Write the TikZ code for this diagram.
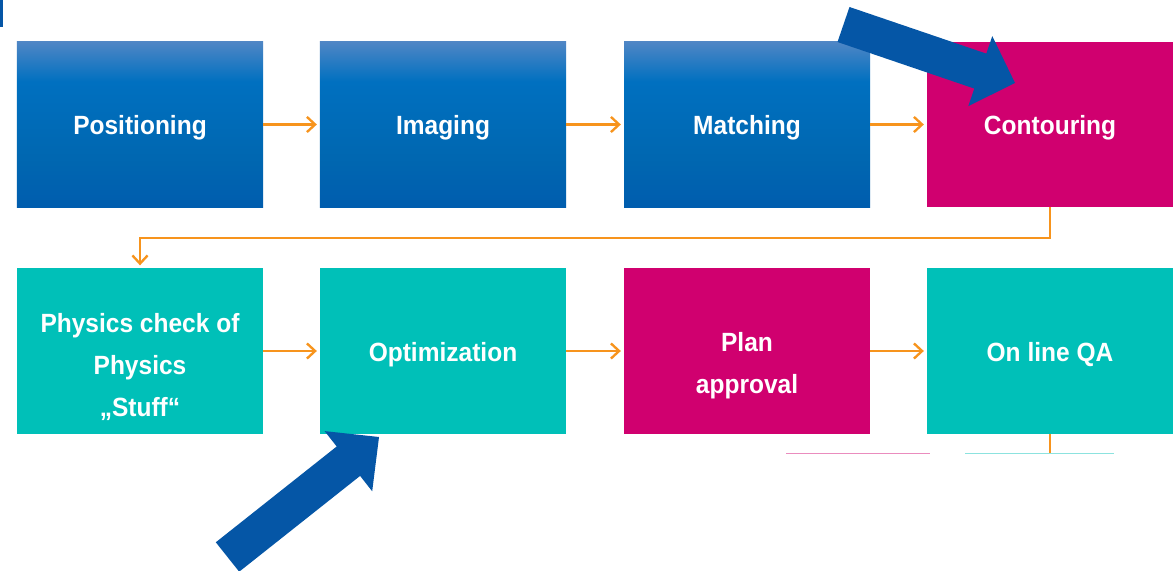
\documentclass[tikz,border=0pt]{standalone}
\usepackage{fontspec}
\setmainfont{Liberation Sans}
\newfontfamily\boxfont[FakeStretch=0.93]{Liberation Sans}
\usetikzlibrary{arrows.meta}
\definecolor{boxblue}{HTML}{0070C0}
\definecolor{boxbluetop}{HTML}{4F86C5}
\definecolor{boxbluebot}{HTML}{005DAE}
\definecolor{boxpink}{HTML}{D0006F}
\definecolor{boxteal}{HTML}{00C0B8}
\definecolor{flow}{HTML}{F7941D}
\definecolor{pointer}{HTML}{0556A6}
\pgfdeclareverticalshading{boxshade}{100bp}{color(0bp)=(boxbluebot); color(25bp)=(boxbluebot);
  color(40bp)=(boxblue!92!black); color(63bp)=(boxblue); color(75bp)=(boxbluetop); color(100bp)=(boxbluetop)}
\tikzset{
  stepbox/.style={rectangle, minimum width=7.38cm, minimum height=4.95cm, inner sep=0pt},
  bluebox/.style={stepbox, shading=boxshade},
  pinkbox/.style={stepbox, fill=boxpink},
  tealbox/.style={stepbox, fill=boxteal},
  boxtext/.style={anchor=base, inner sep=0pt, align=center, text=white,
    font=\boxfont\fontsize{22.5}{35.5}\selectfont\bfseries},
  flowline/.style={draw=flow, line width=2pt, shorten >=2.5pt,
    -{Straight Barb[length=7pt,width=13pt]}},
  bigarrow/.style={fill=pointer}
}
\begin{document}
\begin{tikzpicture}[x=0.03cm, y=-0.03cm]
  \clip (0,0) rectangle (1173,571);
  \fill[white] (0,0) rectangle (1173,571);
  \fill[pointer] (0,0) rectangle (3,27);
  % boxes
  \node[bluebox] (pos) at (140,124.5) {};
  \node[bluebox] (img) at (443,124.5) {};
  \node[bluebox] (match) at (747,124.5) {};
  \node[pinkbox] (cont) at (1050,124.5) {};
  \node[tealbox] (phys) at (140,351) {};
  \node[tealbox] (opt) at (443,351) {};
  \node[pinkbox] (plan) at (747,351) {};
  \node[tealbox] (qa) at (1050,351) {};
  % texts
  \node[boxtext] (postext) at (140,134.5) {Positioning};
  \node[boxtext] (imgtext) at (443,134.5) {Imaging};
  \node[boxtext] (matchtext) at (747,134.5) {Matching};
  \node[boxtext] (conttext) at (1050,135) {Contouring};
  \node[boxtext] (phystext) at (140,416) {Physics check of\\Physics\\„Stuff“};
  \node[boxtext] (opttext) at (443,361.5) {Optimization};
  \node[boxtext] (plantext) at (747,393) {Plan\\approval};
  \node[boxtext] (qatext) at (1050,361.5) {On line QA};
  % flow
  \draw[flowline] (pos) -- (img);
  \draw[flowline] (img) -- (match);
  \draw[flowline] (match) -- (cont);
  \draw[flowline] (cont.south) -- ++(0,31) -| (phys.north);
  \draw[flowline] (phys) -- (opt);
  \draw[flowline] (opt) -- (plan);
  \draw[flowline] (plan) -- (qa);
  \coordinate (qaend) at (1050,454);
  \draw[flow, line width=2pt] (qa.south) -- (qaend);
  \draw[boxpink!45, line width=1.4pt] (786,453.5) -- (930,453.5);
  \draw[boxteal!45, line width=1.4pt] (965,453.5) -- (1114,453.5);
  % pointers
  \fill[bigarrow] (849.5,7) -- (986.3,53.6) -- (992.3,36.1) -- (1015,83)
    -- (968.3,106.1) -- (974.3,88.6) -- (837.5,42) -- cycle;
  \fill[bigarrow] (215.8,542.3) -- (336.7,446.5) -- (324.6,431.1) -- (379,437)
    -- (372.2,491.3) -- (360.1,475.9) -- (239.2,571.7) -- cycle;
\end{tikzpicture}
\end{document}
